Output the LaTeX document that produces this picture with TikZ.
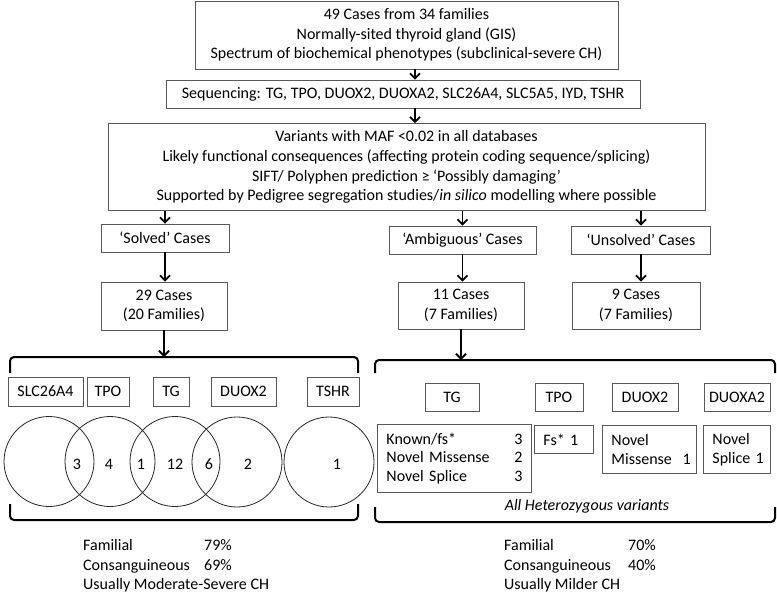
\documentclass[tikz,border=0pt]{standalone}
\usepackage{fontspec}
\setmainfont{Carlito}
\usetikzlibrary{arrows.meta}
\begin{document}
\begin{tikzpicture}[x=1pt,y=-1pt,
  every node/.style={font=\fontsize{16}{19.5}\selectfont, inner sep=0pt},
  box/.style={draw=black!65, line width=0.9pt, align=center},
  lbox/.style={draw=black!65, line width=0.9pt, align=left, anchor=north west, inner xsep=0pt, font=\fontsize{16}{18.7}\selectfont},
  arr/.style={line width=1.8pt, -{Straight Barb[length=5pt,width=10pt,line width=1.8pt]}},
  brk/.style={line width=2pt, rounded corners=4pt},
  venn/.style={circle, draw=black!85, line width=0.8pt, minimum size=90pt},
  num/.style={font=\fontsize{16}{19.5}\selectfont}
]
\useasboundingbox (0,0) rectangle (777,595);

% top boxes
\node[box, minimum width=423pt, minimum height=68pt] (b1) at (406.5,35)
  {49 Cases from 34 families\\Normally-sited thyroid gland (GIS)\\Spectrum of biochemical phenotypes (subclinical-severe CH)};
\node[box, minimum width=474pt, minimum height=28pt] (b2) at (403,94)
  {Sequencing: TG, TPO, DUOX2, DUOXA2, SLC26A4, SLC5A5, IYD, TSHR};
\node[box, minimum width=597pt, minimum height=87pt, font=\fontsize{16}{19.8}\selectfont] (b3) at (406.5,167)
  {Variants with MAF <0.02 in all databases\\
   Likely functional consequences (affecting protein coding sequence/splicing)\\
   SIFT/ Polyphen prediction ≥ ‘Possibly damaging’\\
   Supported by Pedigree segregation studies/\textit{in silico} modelling where possible};

\node[box, minimum width=128pt, minimum height=28pt] (solved) at (165,238) {‘Solved’ Cases};
\node[box, minimum width=147pt, minimum height=28pt] (ambig) at (462.5,240) {‘Ambiguous’ Cases};
\node[box, minimum width=139pt, minimum height=28pt] (unsolved) at (641,240) {‘Unsolved’ Cases};

\node[box, minimum width=126pt, minimum height=48pt] (c29) at (164,306) {29 Cases\\(20 Families)};
\node[box, minimum width=126pt, minimum height=47pt] (c11) at (461,305.5) {11 Cases\\(7 Families)};
\node[box, minimum width=128pt, minimum height=47pt] (c9) at (636,305.5) {9 Cases\\(7 Families)};

% arrows
\draw[arr] (b1.south -| 415,0) -- (b2.north -| 415,0);
\draw[arr] (b2.south -| 415,0) -- (b3.north -| 415,0);
\draw[arr] (b3.south -| solved.north) -- (solved.north);
\draw[arr] (b3.south -| ambig.north) -- (ambig.north);
\draw[arr] (b3.south -| unsolved.north) -- (unsolved.north);
\draw[arr] (solved.south) -- (solved.south |- c29.north);
\draw[arr] (ambig.south) -- (ambig.south |- c11.north);
\draw[arr] (unsolved.south) -- (unsolved.south |- c9.north);

% brackets
\coordinate (lbt) at (164,357);
\coordinate (rbt) at (461,360);
\draw[brk] (10,373) -- (10,357) -- (358,357) -- (358,373);
\draw[brk] (10,504) -- (10,520) -- (358,520) -- (358,504);
\draw[brk] (375,373) -- (375,360) -- (775,360) -- (775,373);
\draw[brk] (375,507) -- (375,522) -- (775,522) -- (775,507);
\draw[arr] (c29.south) -- (lbt);
\draw[arr] (c11.south) -- (rbt);

% left gene boxes
\node[box, minimum width=75pt, minimum height=29pt] (gslc) at (45.5,391.5) {SLC26A4};
\node[box, minimum width=42pt, minimum height=29pt] (gtpo) at (108,391.5) {TPO};
\node[box, minimum width=36pt, minimum height=29pt] (gtg) at (171,391.5) {TG};
\node[box, minimum width=65pt, minimum height=29pt] (gduox) at (243.5,391.5) {DUOX2};
\node[box, minimum width=52pt, minimum height=29pt] (gtshr) at (333,391.5) {TSHR};

% venn circles
\node[venn] (v1) at (49,461.5) {};
\node[venn] (v2) at (110,461.5) {};
\node[venn] (v3) at (175,461.5) {};
\node[venn] (v4) at (237,462) {};
\node[venn] (v5) at (329,462) {};
\node[num] (n1) at (77,464) {3};
\node[num] (n2) at (109,464) {4};
\node[num] (n3) at (141,464) {1};
\node[num] (n4) at (175,464) {12};
\node[num] (n5) at (209,464) {6};
\node[num] (n6) at (248,464) {2};
\node[num] (n7) at (337,464) {1};

% right gene boxes
\node[box, minimum width=54pt, minimum height=28pt] (rtg) at (452,397) {TG};
\node[box, minimum width=48pt, minimum height=28pt] (rtpo) at (559,397) {TPO};
\node[box, minimum width=66pt, minimum height=28pt] (rduox) at (645,397) {DUOX2};
\node[box, minimum width=66pt, minimum height=28pt] (rduoxa) at (737,397) {DUOXA2};

% detail boxes
\node[lbox, minimum height=68pt, text width=154pt] (dtg) at (377,424)
  {\hspace*{9pt}\makebox[128pt][l]{Known/fs*}3\\\hspace*{9pt}\makebox[128pt][l]{Novel Missense}2\\\hspace*{9pt}\makebox[128pt][l]{Novel Splice}3};
\node[lbox, minimum height=28pt, text width=59pt] (dtpo) at (534,425) {\hspace*{9pt}Fs* 1};
\node[lbox, minimum height=48pt, text width=94pt] (dduox) at (602,425) {\hspace*{9pt}Novel\\\hspace*{9pt}Missense\ \ 1};
\node[lbox, minimum height=48pt, text width=67pt] (dduoxa) at (703,425) {\hspace*{9pt}Novel\\\hspace*{9pt}Splice 1};

\node (het) at (587,506) {\itshape All Heterozygous variants};

% stats
\node[anchor=west, align=left] (lstats) at (83,566)
  {\makebox[121pt][l]{Familial}79\%\\\makebox[121pt][l]{Consanguineous}69\%\\Usually Moderate-Severe CH};
\node[anchor=west, align=left] (rstats) at (504,566)
  {\makebox[124pt][l]{Familial}70\%\\\makebox[124pt][l]{Consanguineous}40\%\\Usually Milder CH};
\end{tikzpicture}
\end{document}
